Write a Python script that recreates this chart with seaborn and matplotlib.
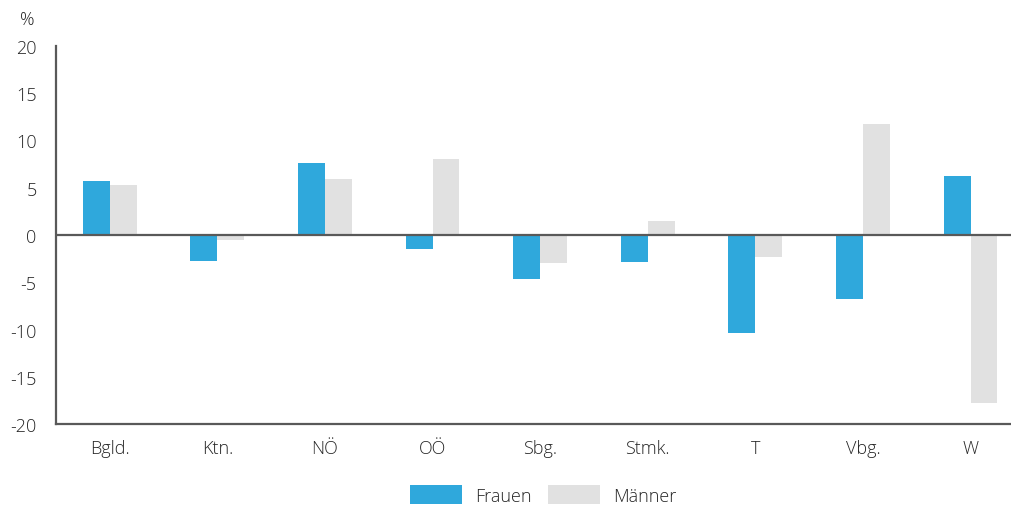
import pandas as pd
import matplotlib.pyplot as plt
import seaborn as sns
from matplotlib.patches import Patch

# Daten
bundeslaender = ['Bgld.', 'Ktn.', 'NÖ', 'OÖ', 'Sbg.', 'Stmk.', 'T', 'Vbg.', 'W']
frauen = [5.7, -2.8, 7.6, -1.5, -4.7, -2.9, -10.4, -6.8, 6.2]
maenner = [5.3, -0.5, 5.9, 8.0, -3.0, 1.5, -2.3, 11.7, -17.8]
serien = ['Frauen', 'Männer']
farben = ['#2FA8DC', '#E1E1E1']

df = pd.DataFrame({
    'land': bundeslaender * 2,
    'wert': frauen + maenner,
    'serie': [serien[0]] * len(frauen) + [serien[1]] * len(maenner),
})

sns.set_style('white')
plt.rcParams['font.family'] = ['Open Sans', 'DejaVu Sans']
plt.rcParams['font.weight'] = 'light'
plt.rcParams['axes.unicode_minus'] = False
text_farbe = '#262626'
achsen_farbe = '#595959'

fig = plt.figure(figsize=(10.12, 5.06), dpi=100)
ax = fig.add_axes([56 / 1012, 81 / 506, (1012 - 56) / 1012, 378 / 506])

sns.barplot(data=df, x='land', y='wert', hue='serie', palette=farben,
            width=0.5, ax=ax, legend=False, saturation=1, linewidth=0)

ax.set_ylim(-20, 20)
ax.set_yticks(range(-20, 21, 5))
ax.set_xlim(-0.5, (1012 - 56) / 107.6 - 0.5)
ax.axhline(0, color=achsen_farbe, linewidth=1.6, zorder=3)

ax.set_xlabel('')
ax.set_ylabel('')
for s in ['top', 'right']:
    ax.spines[s].set_visible(False)
for s in ['left', 'bottom']:
    ax.spines[s].set_color(achsen_farbe)
    ax.spines[s].set_linewidth(1.6)

ax.tick_params(axis='both', length=0, labelsize=13, colors=text_farbe)
ax.tick_params(axis='y', pad=14)
ax.tick_params(axis='x', pad=11)

fig.text(27 / 1012, 1 - 20 / 506, '%', fontsize=13, color=text_farbe,
         ha='center', va='center')

handles = [Patch(facecolor=c, edgecolor='none') for c in farben]
fig.legend(handles, serien, loc='center', bbox_to_anchor=(543 / 1012, 1 - 496 / 506),
           ncol=2, frameon=False, fontsize=13, handlelength=2.9, handleheight=1.2,
           handletextpad=0.7, columnspacing=0.9, labelcolor=text_farbe)

fig.savefig('out.png', dpi=100)
